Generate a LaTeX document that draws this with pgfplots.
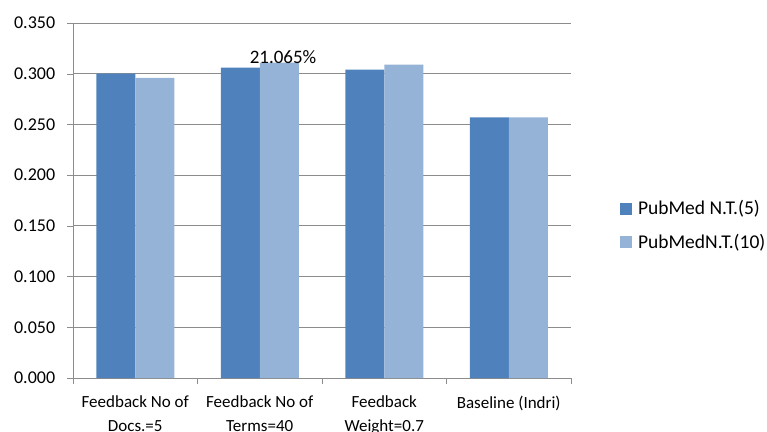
\documentclass[border=0pt]{standalone}
\usepackage{pgfplots}
\pgfplotsset{compat=1.18}
\usepackage{fontspec}
\setmainfont{Carlito}
\definecolor{darkb}{HTML}{4F81BD}
\definecolor{lightb}{HTML}{95B3D7}
\definecolor{gridg}{HTML}{8C8C8C}
\begin{document}
\fontsize{17}{20}\selectfont
\begin{tikzpicture}
\path[use as bounding box] (-73pt,-53pt) rectangle (694pt,378pt);
\begin{axis}[
  at={(0pt,0pt)}, anchor=south west,
  scale only axis, width=498pt, height=355pt,
  ybar=0pt, bar width=39pt,
  xmin=-0.5, xmax=3.5, ymin=0, ymax=0.35,
  ytick={0,0.05,...,0.351},
  /pgf/number format/fixed, /pgf/number format/fixed zerofill,
  /pgf/number format/precision=3, /pgf/number format/assume math mode=true,
  yticklabel style={font=\fontsize{18}{20}\selectfont, xshift=-6pt},
  xtick={0,1,2,3},
  xticklabels={{Feedback No of\\Docs.=5},{Feedback No of\\Terms=40},{Feedback\\Weight=0.7},{Baseline (Indri)}},
  xticklabel style={align=center, font=\fontsize{17}{24}\selectfont, yshift=-6pt},
  minor xtick={-0.5,0.5,1.5,2.5,3.5},
  major x tick style={draw=none},
  minor x tick style={draw=gridg},
  y tick style={draw=gridg},
  tick align=outside, major tick length=6pt, minor tick length=6pt,
  axis x line*=bottom, axis y line*=left,
  axis line style={gridg, line width=0.8pt, -},
  ymajorgrids, grid style={gridg, line width=0.8pt},
  legend style={at={(1.098,0.507)}, anchor=north west, draw=none, fill=none,
    font=\fontsize{19.5}{22}\selectfont, row sep=13pt, inner sep=0pt,
    /tikz/every odd column/.append style={column sep=4pt}},
  legend cell align=left,
  legend image code/.code={\fill[#1] (0pt,-6pt) rectangle (12pt,6pt);},
  clip=false,
]
\addplot[fill=darkb, draw=none] coordinates {(0,0.300) (1,0.306) (2,0.304) (3,0.257)};
\addplot[fill=lightb, draw=none] coordinates {(0,0.296) (1,0.311) (2,0.309) (3,0.257)};
\legend{PubMed N.T.(5),PubMedN.T.(10)}
\node[font=\fontsize{19}{21}\selectfont] at (axis cs:1.187,0.3165) {21.065\%};
\end{axis}
\end{tikzpicture}
\end{document}
